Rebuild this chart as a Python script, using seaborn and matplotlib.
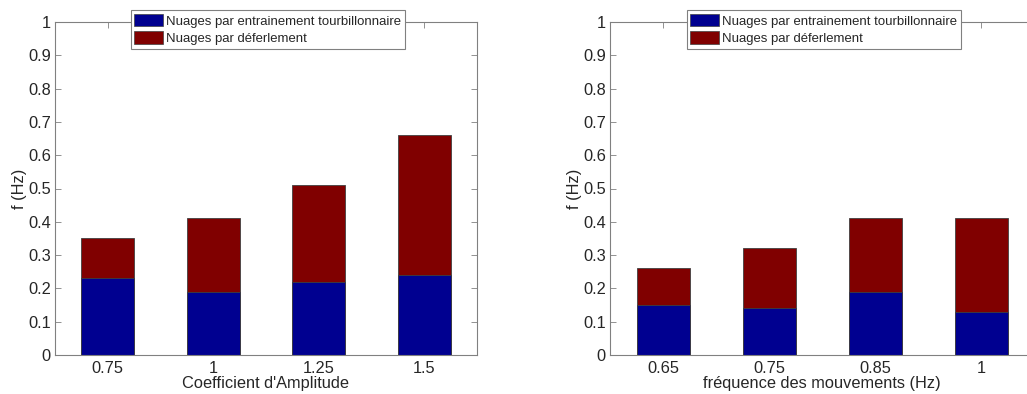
import pandas as pd
import seaborn as sns
import matplotlib.pyplot as plt
from matplotlib.patches import Patch
from matplotlib.ticker import FuncFormatter

# left panel: coefficient d'amplitude
amp_labels = ["0.75", "1", "1.25", "1.5"]
amp_tourb = [0.23, 0.19, 0.22, 0.24]
amp_total = [0.35, 0.41, 0.51, 0.66]

# right panel: frequence des mouvements
freq_labels = ["0.65", "0.75", "0.85", "1"]
freq_tourb = [0.15, 0.14, 0.19, 0.13]
freq_total = [0.26, 0.32, 0.41, 0.41]

blue = "#000090"
red = "#800000"
legend_names = ["Nuages par entrainement tourbillonnaire", "Nuages par déferlement"]

sns.set_style("white")
plt.rcParams["font.family"] = ["Liberation Sans", "DejaVu Sans"]

fig = plt.figure(figsize=(10.27, 3.94), dpi=100)
W, H = 1027, 394
ax1 = fig.add_axes([55 / W, (H - 355) / H, 422 / W, 333 / H])
ax2 = fig.add_axes([610 / W, (H - 355) / H, 424 / W, 333 / H])


def stacked(ax, labels, tourb, total, xlabel):
    df = pd.DataFrame({"x": labels, "tourb": tourb, "total": total})
    sns.barplot(data=df, x="x", y="total", color=red, width=0.5, ax=ax,
                edgecolor="#404040", linewidth=0.6, saturation=1)
    sns.barplot(data=df, x="x", y="tourb", color=blue, width=0.5, ax=ax,
                edgecolor="#404040", linewidth=0.6, saturation=1)
    ax.set_xlim(-0.5, 3.5)
    ax.set_ylim(0, 1)
    ax.set_yticks([i / 10 for i in range(11)])
    ax.yaxis.set_major_formatter(FuncFormatter(lambda v, p: "%g" % round(v, 2)))
    ax.set_xlabel(xlabel, fontsize=11.8, labelpad=0)
    ax.set_ylabel("f (Hz)", fontsize=11.8, labelpad=1)
    ax.tick_params(direction="in", length=4, width=0.6, color="#808080",
                   labelsize=11.8, top=True, right=True, bottom=True, left=True,
                   pad=3)
    ax.tick_params(axis="x", pad=4)
    for s in ax.spines.values():
        s.set_visible(True)
        s.set_color("#808080")
        s.set_linewidth(0.8)
    handles = [Patch(facecolor=blue, edgecolor="#404040", linewidth=0.5),
               Patch(facecolor=red, edgecolor="#404040", linewidth=0.5)]
    leg = ax.legend(handles, legend_names, loc="upper center",
                    bbox_to_anchor=(0.504, 1.036), fontsize=9.45, frameon=True,
                    fancybox=False, framealpha=1, handlelength=2.2,
                    handleheight=1.05, handletextpad=0.2, borderpad=0.3,
                    labelspacing=0.3, borderaxespad=0)
    leg.get_frame().set_edgecolor("#808080")
    leg.get_frame().set_linewidth(0.8)


stacked(ax1, amp_labels, amp_tourb, amp_total, "Coefficient d'Amplitude")
stacked(ax2, freq_labels, freq_tourb, freq_total, "fréquence des mouvements (Hz)")

fig.savefig("out.png", dpi=100)
